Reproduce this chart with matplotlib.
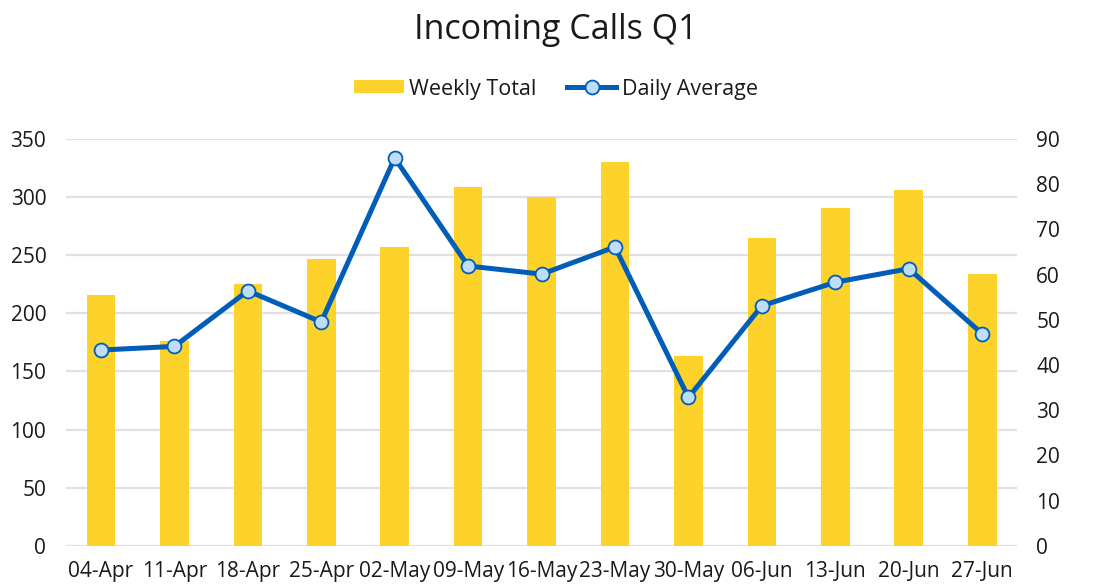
import matplotlib
matplotlib.use("Agg")
import matplotlib.pyplot as plt
from matplotlib.patches import Patch
from matplotlib.lines import Line2D

weeks = ["04-Apr", "11-Apr", "18-Apr", "25-Apr", "02-May", "09-May", "16-May",
         "23-May", "30-May", "06-Jun", "13-Jun", "20-Jun", "27-Jun"]
weekly_total = [216, 176, 225, 247, 257, 309, 300, 330, 163, 265, 291, 306, 234]
daily_average = [43.3, 44.1, 56.4, 49.5, 85.8, 61.9, 60.1, 66.1, 32.8, 53.1, 58.3, 61.3, 46.9]
left_ticks = [0, 50, 100, 150, 200, 250, 300, 350]
right_ticks = [0, 10, 20, 30, 40, 50, 60, 70, 80, 90]

BAR = "#FDD22B"
LINE = "#005EB8"
FACE = "#BFDDF7"
GRID = "#E0E0E0"
TXT = "#1A1A1A"

plt.rcParams['font.family'] = ['Open Sans', 'DejaVu Sans']

fig = plt.figure(figsize=(11.12, 5.84), dpi=100)
ax = fig.add_axes([65.7 / 1112, 1 - 545.7 / 584, (1016.7 - 65.7) / 1112, (545.7 - 139) / 584])
x = list(range(len(weeks)))
ax.bar(x, weekly_total, width=0.39, color=BAR, zorder=2)
ax.set_ylim(0, 350)
ax.set_yticks(left_ticks)
ax.set_xlim(-0.48, 12.47)
ax.set_xticks(x)
ax.set_xticklabels(weeks)
ax.grid(axis='y', color=GRID, linewidth=1.6, zorder=0)
ax.set_axisbelow(True)
for s in ax.spines.values():
    s.set_visible(False)
ax.tick_params(axis='both', length=0, labelsize=15, colors=TXT)
ax.tick_params(axis='y', pad=14)
ax.tick_params(axis='x', pad=11)

ax2 = ax.twinx()
ax2.plot(x, daily_average, color=LINE, linewidth=3.6, marker='o', markersize=10,
         markerfacecolor=FACE, markeredgecolor=LINE, markeredgewidth=1.3, zorder=3)
ax2.set_ylim(0, 90)
ax2.set_yticks(right_ticks)
for s in ax2.spines.values():
    s.set_visible(False)
ax2.tick_params(axis='y', length=0, labelsize=15, colors=TXT, pad=14)

fig.text(0.5, 1 - 30 / 584, "Incoming Calls Q1", ha='center', va='center',
         fontsize=24.5, color=TXT)

handles = [Patch(facecolor=BAR, edgecolor='none'),
           Line2D([0], [0], color=LINE, linewidth=3.6, marker='o', markersize=10,
                  markerfacecolor=FACE, markeredgecolor=LINE, markeredgewidth=1.3)]
fig.legend(handles, ["Weekly Total", "Daily Average"], loc='center',
           bbox_to_anchor=(0.5, 1 - 89 / 584), ncol=2, frameon=False,
           fontsize=15.5, handlelength=2.3, handleheight=0.55, handletextpad=0.25,
           columnspacing=1.4, labelcolor=TXT)

fig.savefig("out.png", dpi=100)
